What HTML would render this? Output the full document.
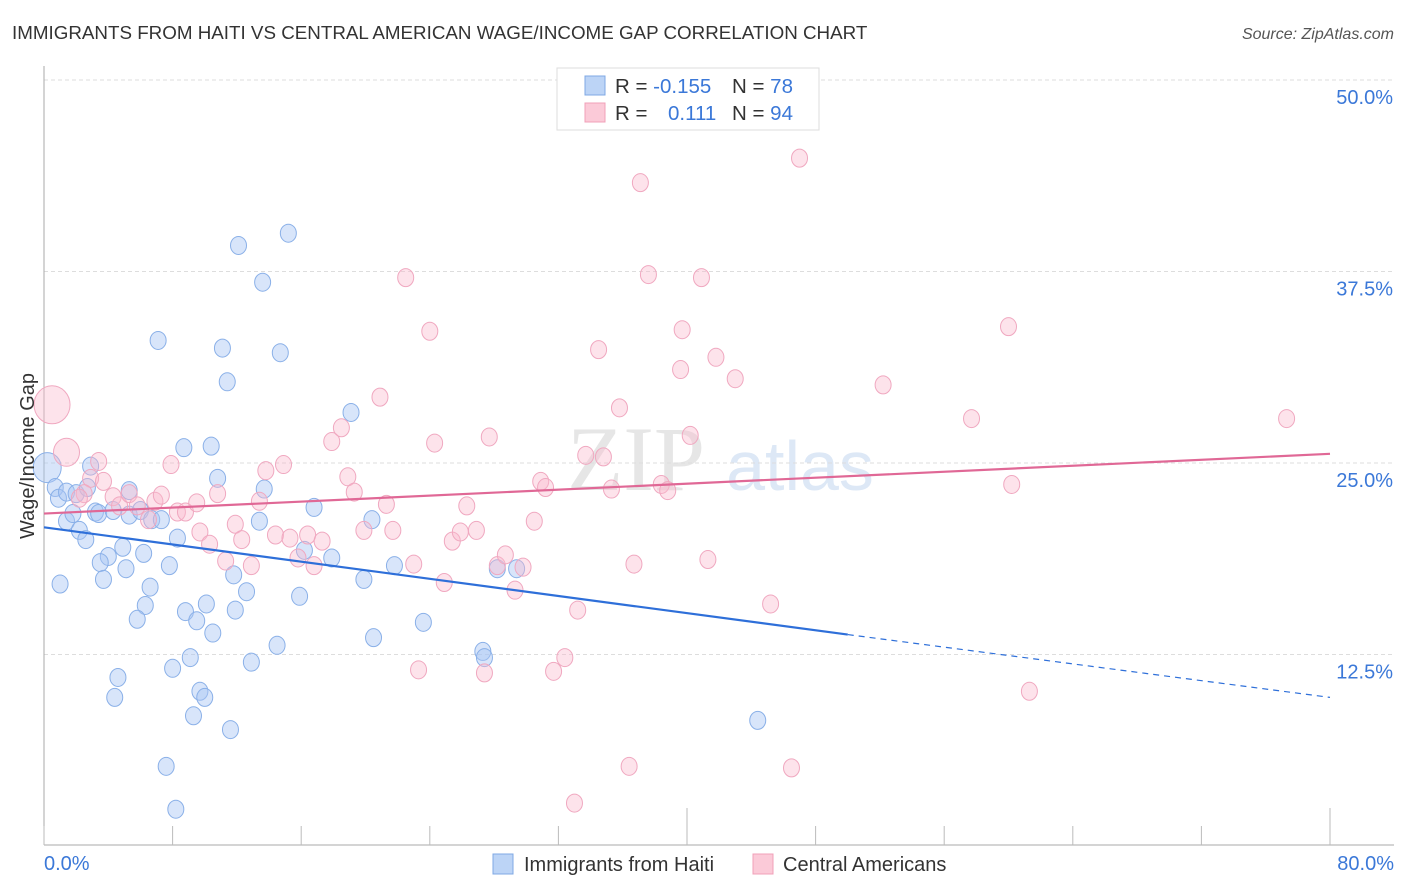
<!DOCTYPE html>
<html><head><meta charset="utf-8">
<style>
body{margin:0;background:#fff;font-family:"Liberation Sans",sans-serif;}
#wrap{position:relative;width:1406px;height:892px;overflow:hidden;}
</style></head>
<body>
<div id="wrap">
<svg id="chart" width="1406" height="892" xmlns="http://www.w3.org/2000/svg">
<text x="12" y="39" font-size="18.8" fill="#333">IMMIGRANTS FROM HAITI VS CENTRAL AMERICAN WAGE/INCOME GAP CORRELATION CHART</text>
<text x="1394" y="39" font-size="16" fill="#555" font-style="italic" text-anchor="end">Source: ZipAtlas.com</text>
<text x="636" y="490" font-size="92" fill="#e6e6e6" font-family="Liberation Serif,serif" text-anchor="middle">ZIP</text>
<text x="800" y="490" font-size="70" fill="#dde8f6" text-anchor="middle">atlas</text>
<g id="grid"></g>
<g id="axes"></g>
<g id="pts"></g>
<g id="trends"></g>
<text transform="translate(34,456) rotate(-90)" font-size="20" fill="#333" text-anchor="middle">Wage/Income Gap</text>
<text x="44" y="870" font-size="20" fill="#3b78d8">0.0%</text>
<text x="1394" y="870" font-size="20" fill="#3b78d8" text-anchor="end">80.0%</text>
<g>
<rect x="557" y="68" width="262" height="62" fill="#fff" stroke="#ddd"/>
<rect x="585" y="76" width="20" height="19" fill="#bcd4f6" stroke="#7fa8e4"/>
<rect x="585" y="103" width="20" height="19" fill="#fbcad8" stroke="#f0a0b8"/>
<text x="615" y="93" font-size="20.5" fill="#333">R = <tspan fill="#3b78d8">-0.155</tspan><tspan x="732">N = </tspan><tspan fill="#3b78d8">78</tspan></text>
<text x="615" y="120" font-size="20.5" fill="#333">R = <tspan x="668" fill="#3b78d8">0.111</tspan><tspan x="732">N = </tspan><tspan fill="#3b78d8">94</tspan></text>
</g>
<g>
<rect x="493" y="854" width="20" height="20" fill="#bcd4f6" stroke="#7fa8e4"/>
<text x="524" y="871" font-size="20" fill="#333">Immigrants from Haiti</text>
<rect x="753" y="854" width="20" height="20" fill="#fbcad8" stroke="#f0a0b8"/>
<text x="783" y="871" font-size="20" fill="#333">Central Americans</text>
</g>
</svg>
</div>
<script>
const yTicks=[12.5,25.0,37.5,50.0];
const yTickLabels=["12.5%","25.0%","37.5%","50.0%"];
const xTicks=[0,8,16,24,32,40,48,56,64,72,80];
const haitiX=[0.2,0.7,0.9,1.4,2.0,2.7,2.9,1.4,1.8,2.2,2.6,3.2,3.4,4.3,5.3,5.3,6.0,6.7,7.3,4.0,3.5,3.7,4.9,5.1,6.2,6.6,6.3,5.8,1.0,7.1,8.7,8.3,7.8,8.8,9.5,10.1,10.5,9.1,8.0,4.6,4.4,9.7,10.0,9.3,11.6,7.6,8.2,12.1,15.2,13.6,11.1,14.7,11.4,10.4,10.8,13.7,13.4,11.8,12.6,11.9,12.9,14.5,15.9,16.2,16.8,17.9,19.1,20.4,19.9,21.8,20.5,23.6,27.3,27.4,28.2,29.4,44.4];
const haitiY=[24.7,23.4,22.7,23.1,23.0,23.4,24.8,21.2,21.7,20.6,20.0,21.8,21.7,21.9,23.2,21.6,21.9,21.3,21.3,18.9,18.5,17.4,19.5,18.1,19.1,16.9,15.7,14.8,17.1,33.0,26.0,20.1,18.3,15.3,14.7,15.8,13.9,12.3,11.6,11.0,9.7,10.1,9.7,8.5,7.6,5.2,2.4,39.2,40.0,36.8,32.5,32.2,30.3,26.1,24.0,23.3,21.2,17.7,16.6,15.4,12.0,13.1,16.3,19.3,22.1,18.8,28.3,21.3,17.4,18.3,13.6,14.6,12.7,12.3,18.1,18.1,8.2];
const centralX=[0.5,1.4,3.4,2.9,3.7,2.5,2.2,4.3,4.7,5.3,5.8,6.9,7.3,6.5,7.9,8.3,8.8,9.5,10.8,9.7,10.3,11.3,11.9,12.3,12.9,13.4,13.8,14.9,14.4,15.3,15.8,16.4,16.8,17.3,17.9,18.5,18.9,19.3,19.9,20.9,21.3,21.7,22.5,23.0,23.3,24.0,24.3,24.9,25.4,25.9,26.3,26.9,27.7,28.2,28.7,29.3,29.8,27.4,30.5,30.9,31.2,31.7,32.4,33.2,33.0,33.7,34.5,34.8,35.3,35.8,36.4,37.1,36.7,37.6,39.6,39.7,38.4,38.8,40.2,40.9,41.3,41.8,43.0,45.2,46.5,47.0,52.2,57.7,60.0,60.2,61.3,77.3];
const centralY=[28.8,25.7,25.1,24.0,23.8,23.0,22.7,22.8,22.2,23.0,22.2,22.5,22.9,21.3,24.9,21.8,21.8,22.4,23.0,20.5,19.7,18.6,21.0,20.0,18.3,22.5,24.5,24.9,20.3,20.1,18.8,20.3,18.3,19.9,26.4,27.3,24.1,23.1,20.6,29.3,22.3,20.6,37.1,18.4,11.5,33.6,26.3,17.2,19.9,20.5,22.2,20.6,26.7,18.3,19.0,16.7,18.2,11.3,21.2,23.8,23.4,11.4,12.3,15.4,2.8,25.5,32.4,25.4,23.3,28.6,5.2,43.3,18.4,37.3,31.1,33.7,23.6,23.2,26.8,37.1,18.7,31.9,30.5,15.8,5.1,44.9,30.1,27.9,33.9,23.6,10.1,27.9];
const haitiTrend=[20.8,13.8,9.7];
const haitiTrendX=[0,50,80];
const centralTrend=[21.7,25.6];
const centralTrendX=[0,80];

const NS="http://www.w3.org/2000/svg";
const X0=44,X1=1330,YTOP=80,YBOT=846;
function sx(v){return X0+(v/80)*(X1-X0);}
function sy(v){return YBOT-(v/50)*(YBOT-YTOP);}
function mk(tag,attrs,parent){const e=document.createElementNS(NS,tag);for(const k in attrs)e.setAttribute(k,attrs[k]);parent.appendChild(e);return e;}

const grid=document.getElementById('grid');
yTicks.forEach((t,i)=>{
  const l=mk('line',{x1:X0,x2:1394,y1:sy(t),y2:sy(t),stroke:'#ddd','stroke-dasharray':'4,3'},grid);
  
  
  const tx=mk('text',{x:1393,y:sy(t)+24,'font-size':20,fill:'#3b78d8','text-anchor':'end'},grid);
  tx.textContent=yTickLabels[i];
  
  
});
const axes=document.getElementById('axes');
const ya=mk('line',{x1:X0,x2:X0,y1:66,y2:845,stroke:'#aaa'},axes);


const xa=mk('line',{x1:X0,x2:1394,y1:845,y2:845,stroke:'#aaa'},axes);


xTicks.forEach((t,i)=>{
  const long=(t===40||t===80);
  const tk=mk('line',{x1:sx(t),x2:sx(t),y1:long?808:826,y2:845,stroke:'#bbb'},axes);
  
  
});

const pts=document.getElementById('pts');
function drawPts(xs,ys,fill,stroke,name,bigIdx){
  xs.forEach((x,i)=>{
    let r=8;
    if(bigIdx&&bigIdx[i])r=bigIdx[i];
    const c=mk('ellipse',{cx:sx(x),cy:sy(ys[i]),rx:r,ry:r+1,fill:fill,stroke:stroke,'stroke-width':1},pts);
    
    
  });
}
drawPts(haitiX,haitiY,'rgba(168,198,244,0.45)','#8ab0e8','haiti-point',{0:14});
drawPts(centralX,centralY,'rgba(249,186,206,0.4)','#f0a8c0','central-american-point',{0:18,1:13});

const tr=document.getElementById('trends');
const b1=mk('line',{x1:sx(haitiTrendX[0]),y1:sy(haitiTrend[0]),x2:sx(haitiTrendX[1]),y2:sy(haitiTrend[1]),stroke:'#2e6fd9','stroke-width':2.2},tr);


const b2=mk('line',{x1:sx(haitiTrendX[1]),y1:sy(haitiTrend[1]),x2:sx(haitiTrendX[2]),y2:sy(haitiTrend[2]),stroke:'#2e6fd9','stroke-width':1.2,'stroke-dasharray':'6,5'},tr);


const p1=mk('line',{x1:sx(centralTrendX[0]),y1:sy(centralTrend[0]),x2:sx(centralTrendX[1]),y2:sy(centralTrend[1]),stroke:'#e06896','stroke-width':2.2},tr);


</script>
</body></html>
